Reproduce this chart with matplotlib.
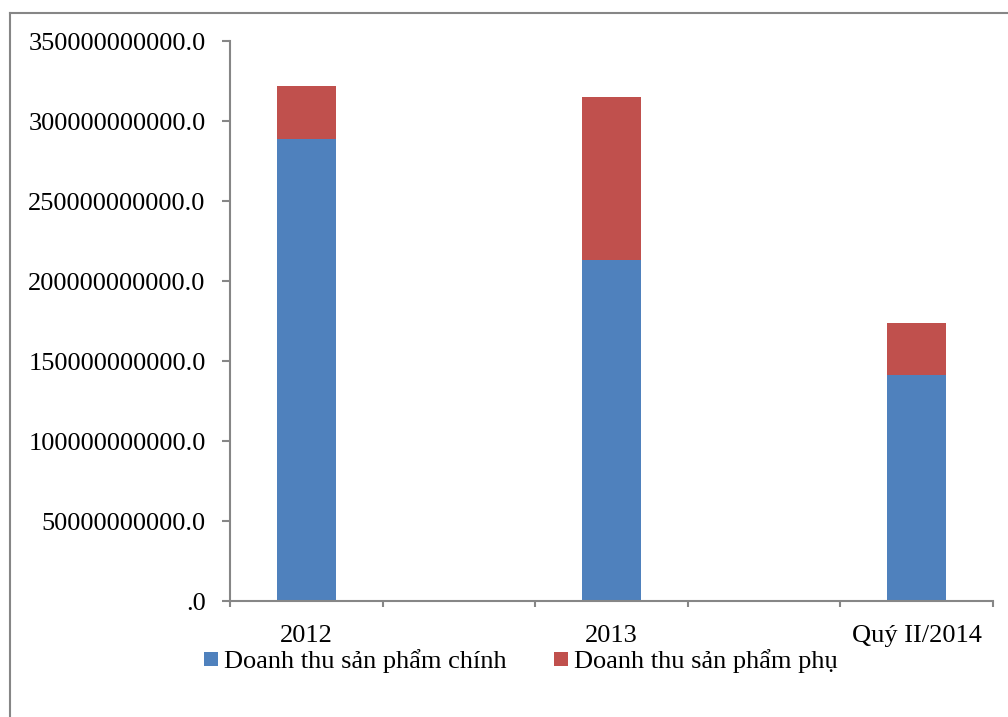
#!/usr/bin/env python3
"""Stacked revenue bars: main vs. by-product revenue."""
import numpy as np
import matplotlib
matplotlib.use('Agg')
import matplotlib.pyplot as plt
from matplotlib.lines import Line2D
from matplotlib.ticker import FixedLocator

categories = ['2012', '', '2013', '', 'Quý II/2014']
main_rev = [288.8e9, 0, 213.1e9, 0, 141.3e9]
side_rev = [33.1e9, 0, 101.9e9, 0, 32.5e9]
series_labels = ['Doanh thu sản phẩm chính', 'Doanh thu sản phẩm phụ']
y_ticks = [0, 50e9, 100e9, 150e9, 200e9, 250e9, 300e9, 350e9]

COL = {'blue': '#4F81BD', 'red': '#C0504D', 'axis': '#868686'}


def fmt(v):
    return '.0' if v == 0 else f'{v:.1f}'


def main():
    plt.rcParams.update({'font.family': ['Liberation Serif', 'DejaVu Serif'], 'font.size': 19})
    fig = plt.figure(figsize=(10.08, 7.17), dpi=100, facecolor='white')
    ax = fig.add_axes([230 / 1008, 1 - 601 / 717, 763 / 1008, 560 / 717])

    x = np.arange(len(categories))
    ax.bar(x, main_rev, width=0.39, color=COL['blue'], linewidth=0)
    ax.bar(x, side_rev, width=0.39, bottom=main_rev, color=COL['red'], linewidth=0)

    ax.set_xlim(-0.5, len(categories) - 0.5)
    ax.set_ylim(0, 350e9)
    ax.set_yticks(y_ticks, [fmt(v) for v in y_ticks])
    ax.set_xticks(x, categories)
    ax.xaxis.set_minor_locator(FixedLocator(np.arange(len(categories) + 1) - 0.5))
    ax.tick_params(axis='x', which='major', length=0, pad=17.5)
    ax.tick_params(axis='x', which='minor', length=4.5, width=1.5, color=COL['axis'], direction='out')
    ax.tick_params(axis='y', length=5.5, width=1.5, color=COL['axis'], direction='out', pad=12)
    for sp in ['top', 'right']:
        ax.spines[sp].set_visible(False)
    for sp in ['left', 'bottom']:
        ax.spines[sp].set_color(COL['axis'])
        ax.spines[sp].set_linewidth(1.5)

    handles = [Line2D([0], [0], marker='s', color='w', markerfacecolor=c, markeredgewidth=0, markersize=10, label=l)
               for c, l in zip([COL['blue'], COL['red']], series_labels)]
    fig.legend(handles=handles, loc='center', bbox_to_anchor=(521 / 1008, 1 - 661 / 717), ncol=2, frameon=False,
               fontsize=19, handlelength=0.5, handletextpad=0.25, columnspacing=1.8)

    # outer chart frame (only left and top edges visible)
    fig.add_artist(Line2D([9.5 / 1008, 9.5 / 1008], [0, 1 - 13 / 717], color=COL['axis'], lw=1.5, transform=fig.transFigure))
    fig.add_artist(Line2D([9.5 / 1008, 1], [1 - 13 / 717, 1 - 13 / 717], color=COL['axis'], lw=1.5, transform=fig.transFigure))

    fig.savefig('out.png', dpi=100)
    plt.close(fig)


if __name__ == '__main__':
    main()
